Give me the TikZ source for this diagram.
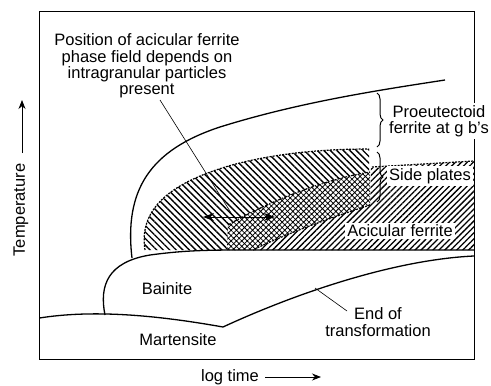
\documentclass[tikz,border=0pt]{standalone}
\usepackage{fontspec}
\setmainfont{Liberation Sans}
\usetikzlibrary{patterns.meta,decorations.pathreplacing,arrows.meta}

\begin{document}
\begin{tikzpicture}[
  x=1pt, y=-1pt,
  curve/.style={line width=1.3pt},
  lbl/.style={font=\fontsize{16.5}{16.3}\selectfont, align=center, inner sep=2pt},
  blank/.style={lbl, fill=white},
  lead/.style={line width=0.6pt},
  axis/.style={line width=0.8pt, -{Stealth[length=9pt,width=7pt]}},
  rim/.style={line width=1.2pt, dash pattern=on 2pt off 1.2pt},
  bracket/.style={decorate, decoration={brace, amplitude=6pt}, line width=1pt}
]
  \useasboundingbox (0,0) rectangle (491,386);

  % side plates, left part
  \path[pattern={Lines[angle=-45,distance=4.6pt,line width=1.4pt]}]
    (145,250) .. controls (139,212) and (165,184) .. (232,165)
    .. controls (280,152) and (330,149) .. (369,149) -- (370,250) -- cycle;
  % acicular ferrite, right part
  \path[preaction={fill=white}, pattern={Lines[angle=45,distance=4.2pt,line width=1.3pt]}]
    (253,250) .. controls (285,234) and (330,218) .. (370,205)
    -- (371,168) -- (474,161) -- (474,250) -- cycle;
  % field that moves with the particles
  \path[preaction={fill=white}, pattern={Hatch[angle=45,distance=3.8pt,line width=0.8pt]}]
    (227,250) -- (228,225) .. controls (262,205) and (320,180) .. (370,172)
    -- (370,205) .. controls (330,218) and (285,234) .. (253,250) -- cycle;

  % dashed rims
  \draw[rim] (145,250) .. controls (139,212) and (165,184) .. (232,165)
    .. controls (280,152) and (330,149) .. (369,149);
  \draw[rim] (372,167) -- (474,161);
  \draw[rim, dash pattern=on 3pt off 1.5pt on 1pt off 1.5pt]
    (228,225) .. controls (262,205) and (320,180) .. (370,172);
  \draw[rim] (370,205) .. controls (330,218) and (285,234) .. (253,250);

  % frame
  \draw[line width=1pt] (39.5,11.7) rectangle (474,359);

  % C curves
  \draw[curve] (132,258) .. controls (124,190) and (150,150) .. (220,127)
    .. controls (300,102) and (380,90) .. (445,80);
  \draw[curve] (105,315) .. controls (99,285) and (108,262) .. (150,255)
    .. controls (180,251) and (200,250) .. (240,250) -- (474,250);
  \draw[curve] (39.5,318) .. controls (90,310) and (150,314) .. (223,327);
  \draw[curve] (223,327) .. controls (290,296) and (390,260) .. (474,256);

  % braces
  \draw[bracket] (377,93) -- (377,147);
  \draw[bracket] (377,152) -- (377,202);

  % labels
  \node[lbl] (pos) at (147,66) {Position of acicular ferrite\\phase field depends on\\intragranular particles\\present};
  \node[blank] (proeu) at (439,121) {Proeutectoid\\ferrite at g b's};
  \node[blank] (side) at (430,176) {Side plates};
  \node[blank] (acic) at (400,231) {Acicular ferrite};
  \node[lbl] (bain) at (167,289) {Bainite};
  \node[lbl] (mart) at (178,340) {Martensite};
  \node[lbl] (eot) at (378,322) {End of\\transformation};
  \node[lbl, rotate=90] (temp) at (21,210) {Temperature};
  \node[lbl] (logt) at (230,377) {log time};

  % leaders and arrows
  \coordinate (posfoot) at (160,100);
  \coordinate (poshead) at (233,216);
  \coordinate (fieldl) at (203,217);
  \coordinate (fieldr) at (275,217);
  \coordinate (eotfoot) at (315,288);
  \coordinate (eottip) at (347,311);
  \coordinate (tfoot) at (22,153);
  \coordinate (ttip) at (22,100);
  \coordinate (lfoot) at (265,377);
  \coordinate (ltip) at (321,377);
  \draw[lead] (posfoot) -- (poshead);
  \draw[line width=0.9pt, {Stealth[length=11pt,width=8pt]}-{Stealth[length=11pt,width=8pt]}] (fieldl) -- (fieldr);
  \draw[lead] (eotfoot) -- (eottip);
  \draw[axis] (tfoot) -- (ttip);
  \draw[axis] (lfoot) -- (ltip);
\end{tikzpicture}
\end{document}
